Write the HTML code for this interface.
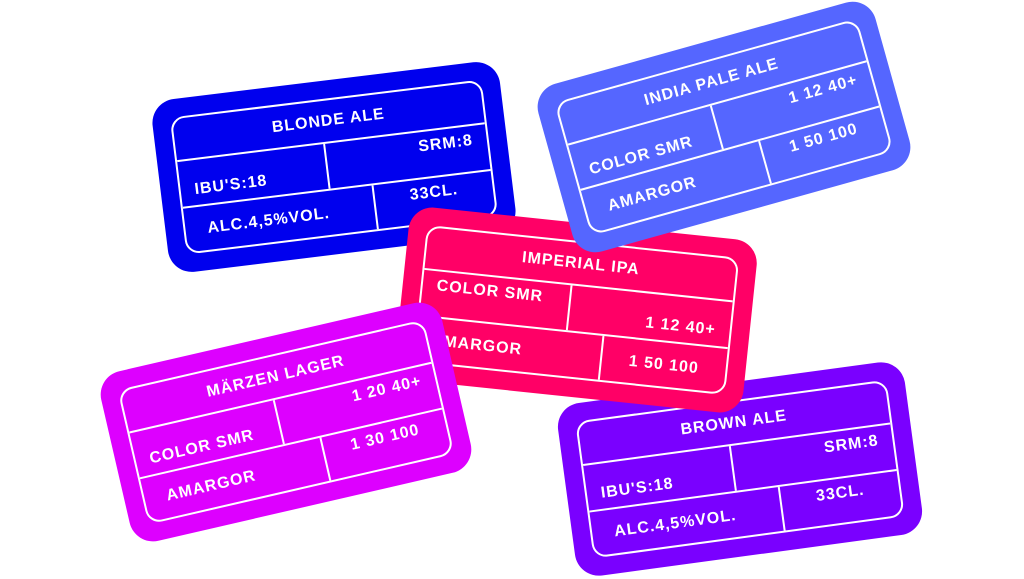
<!DOCTYPE html>
<html><head><style>
body{margin:0;width:1024px;height:575px;background:#fff;overflow:hidden;position:relative;font-family:"Liberation Sans",sans-serif;}
.card{position:absolute;width:350px;height:174px;border-radius:24px;margin-left:-175px;margin-top:-87px;}
.in{position:absolute;left:18px;top:18px;right:18px;bottom:18px;border:2px solid #fff;border-radius:14px;overflow:hidden;color:#fff;font-weight:bold;font-size:16px;letter-spacing:1px;}
.r{position:absolute;left:0;right:0;display:flex;}
.t{top:0;height:41px;align-items:center;justify-content:center;border-bottom:2px solid #fff;}
.r2{top:43px;height:45px;border-bottom:2px solid #fff;}
.r3{top:90px;height:46px;}
.c{height:100%;display:flex;padding:0 14px;box-sizing:border-box;white-space:nowrap;}
.c.l{border-right:2px solid #fff;}
.lo{align-items:flex-end;padding-bottom:6px;}
.hi{align-items:flex-start;padding-top:6px;justify-content:flex-end;}
.mid{align-items:center;}
.re{justify-content:flex-end;}
</style></head><body>

<div class="card" style="left:334px;top:167px;background:#0000ee;transform:rotate(-7deg)">
<div class="in"><div class="r t">BLONDE ALE</div>
<div class="r r2"><div class="c l lo" style="width:48%">IBU'S:18</div><div class="c hi" style="flex:1">SRM:8</div></div>
<div class="r r3"><div class="c l mid" style="width:62%;padding-left:22px">ALC.4,5%VOL.</div><div class="c hi" style="flex:1;justify-content:center">33CL.</div></div></div></div>

<div class="card" style="left:740px;top:469px;background:#7a00ff;transform:rotate(-7.7deg)">
<div class="in"><div class="r t">BROWN ALE</div>
<div class="r r2"><div class="c l lo" style="width:48%">IBU'S:18</div><div class="c hi" style="flex:1">SRM:8</div></div>
<div class="r r3"><div class="c l mid" style="width:62%;padding-left:22px">ALC.4,5%VOL.</div><div class="c hi" style="flex:1;justify-content:center">33CL.</div></div></div></div>

<div class="card" style="left:576px;top:310px;background:#ff0066;transform:rotate(6deg)">
<div class="in"><div class="r t">IMPERIAL IPA</div>
<div class="r r2"><div class="c l hi" style="width:48%;justify-content:flex-start">COLOR SMR</div><div class="c lo re" style="flex:1">1 12 40+</div></div>
<div class="r r3"><div class="c l mid" style="width:60%">AMARGOR</div><div class="c mid" style="flex:1;justify-content:center">1 50 100</div></div></div></div>

<div class="card" style="left:724px;top:127px;background:#5566ff;transform:rotate(-15.6deg)">
<div class="in"><div class="r t">INDIA PALE ALE</div>
<div class="r r2"><div class="c l lo" style="width:48%">COLOR SMR</div><div class="c hi" style="flex:1">1 12 40+</div></div>
<div class="r r3"><div class="c l mid" style="width:60%;padding-left:22px">AMARGOR</div><div class="c hi" style="flex:1;justify-content:center">1 50 100</div></div></div></div>

<div class="card" style="left:286px;top:422px;background:#dd00ff;transform:rotate(-13deg)">
<div class="in"><div class="r t">MÄRZEN LAGER</div>
<div class="r r2"><div class="c l lo" style="width:48%">COLOR SMR</div><div class="c hi" style="flex:1">1 20 40+</div></div>
<div class="r r3"><div class="c l mid" style="width:60%;padding-left:22px">AMARGOR</div><div class="c hi" style="flex:1;justify-content:center">1 30 100</div></div></div></div>

</body></html>
